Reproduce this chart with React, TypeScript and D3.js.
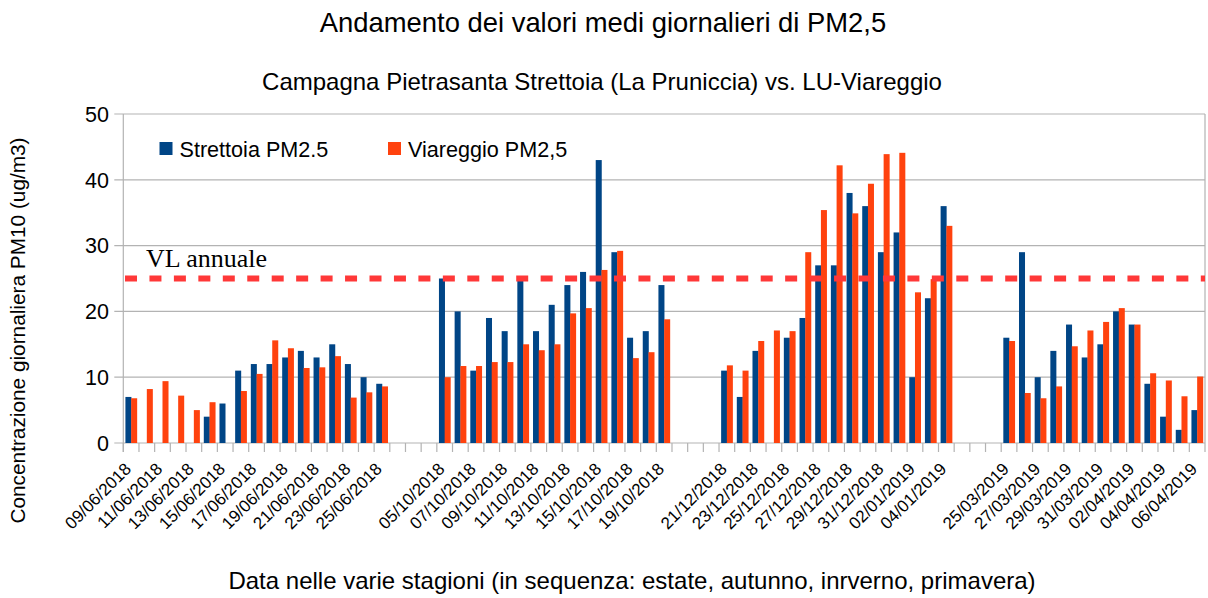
import React, { useEffect, useRef } from 'react';
import * as d3 from 'd3';

// giorni di campionamento (le celle vuote separano le stagioni)
const dates = [
  '09/06/2018', '10/06/2018', '11/06/2018', '12/06/2018', '13/06/2018', '14/06/2018',
  '15/06/2018', '16/06/2018', '17/06/2018', '18/06/2018', '19/06/2018', '20/06/2018',
  '21/06/2018', '22/06/2018', '23/06/2018', '24/06/2018', '25/06/2018', '26/06/2018',
  '', '',
  '05/10/2018', '06/10/2018', '07/10/2018', '08/10/2018', '09/10/2018', '10/10/2018',
  '11/10/2018', '12/10/2018', '13/10/2018', '14/10/2018', '15/10/2018', '16/10/2018',
  '17/10/2018', '18/10/2018', '19/10/2018', '20/10/2018',
  '', '',
  '21/12/2018', '22/12/2018', '23/12/2018', '24/12/2018', '25/12/2018', '26/12/2018',
  '27/12/2018', '28/12/2018', '29/12/2018', '30/12/2018', '31/12/2018', '01/01/2019',
  '02/01/2019', '03/01/2019', '04/01/2019', '05/01/2019',
  '', '',
  '25/03/2019', '26/03/2019', '27/03/2019', '28/03/2019', '29/03/2019', '30/03/2019',
  '31/03/2019', '01/04/2019', '02/04/2019', '03/04/2019', '04/04/2019', '05/04/2019',
  '06/04/2019',
];

const strettoia = [
  7, null, null, null, null, 4, 6, 11, 12, 12, 13, 14, 13, 15, 12, 10, 9, null,
  null, null,
  25, 20, 11, 19, 17, 25, 17, 21, 24, 26, 43, 29, 16, 17, 24, null,
  null, null,
  11, 7, 14, null, 16, 19, 27, 27, 38, 36, 29, 32, 10, 22, 36, null,
  null, null,
  16, 29, 10, 14, 18, 13, 15, 20, 18, 9, 4, 2, 5,
];

const viareggio = [
  6.8, 8.2, 9.4, 7.2, 5.0, 6.2, null, 7.9, 10.5, 15.6, 14.4, 11.4, 11.5, 13.2, 6.9, 7.7, 8.6, null,
  null, null,
  10, 11.7, 11.7, 12.3, 12.3, 15, 14.1, 15, 19.7, 20.5, 26.3, 29.2, 12.9, 13.8, 18.8, null,
  null, null,
  11.8, 11.0, 15.5, 17.1, 17.0, 29.0, 35.4, 42.2, 34.9, 39.4, 43.9, 44.1, 22.9, 24.9, 33.0, null,
  null, null,
  15.5, 7.6, 6.8, 8.6, 14.7, 17.1, 18.4, 20.5, 18.0, 10.6, 9.5, 7.1, 10.1,
];

const seriesNames = ['Strettoia PM2.5', 'Viareggio PM2,5'];
const seriesColors = ['#004586', '#ff420e'];
const yTicks = [0, 10, 20, 30, 40, 50];
const limitValue = 25;

const W = 1208;
const H = 598;
const FONT = '"Liberation Sans", Arial, sans-serif';

export default function App() {
  const ref = useRef<SVGSVGElement>(null);

  useEffect(() => {
    const svg = d3.select(ref.current);
    svg.selectAll('*').remove();

    const left = 123.3, right = 1205, top = 114, bottom = 443;

    const x = d3.scaleBand<number>()
      .domain(dates.map((_, i) => i))
      .range([left, right]);

    const xInner = d3.scaleBand<number>()
      .domain([0, 1])
      .range([0, x.bandwidth()])
      .paddingOuter(0.37);

    const y = d3.scaleLinear().domain([0, 50]).range([bottom, top]);

    // griglia
    svg.append('g')
      .selectAll('line')
      .data(yTicks)
      .join('line')
      .attr('x1', left - 9)
      .attr('x2', right)
      .attr('y1', d => y(d))
      .attr('y2', d => y(d))
      .attr('stroke', '#b3b3b3')
      .attr('stroke-width', 1.2);

    // asse y + bordo destro
    svg.append('line')
      .attr('x1', left).attr('x2', left)
      .attr('y1', top).attr('y2', bottom + 9)
      .attr('stroke', '#b3b3b3').attr('stroke-width', 1.2);
    svg.append('line')
      .attr('x1', right).attr('x2', right)
      .attr('y1', top).attr('y2', bottom + 9)
      .attr('stroke', '#b3b3b3').attr('stroke-width', 1.2);

    // tacche asse x
    svg.append('g')
      .selectAll('line')
      .data(dates.map((_, i) => i))
      .join('line')
      .attr('x1', d => x(d)!)
      .attr('x2', d => x(d)!)
      .attr('y1', bottom)
      .attr('y2', bottom + 9)
      .attr('stroke', '#b3b3b3')
      .attr('stroke-width', 1.2);

    svg.append('g')
      .selectAll('text')
      .data(yTicks)
      .join('text')
      .attr('x', 109)
      .attr('y', d => y(d))
      .attr('dy', '0.36em')
      .attr('text-anchor', 'end')
      .style('font-family', FONT)
      .style('font-size', '21.5px')
      .text(d => d);

    // barre
    [strettoia, viareggio].forEach((vals, s) => {
      svg.append('g')
        .selectAll('rect')
        .data(vals.map((v, i) => ({ v, i })).filter(d => d.v != null))
        .join('rect')
        .attr('x', d => x(d.i)! + xInner(s)!)
        .attr('y', d => y(d.v as number))
        .attr('width', xInner.bandwidth() + 0.3)
        .attr('height', d => bottom - y(d.v as number))
        .attr('fill', seriesColors[s]);
    });

    // etichette date
    svg.append('g')
      .selectAll('text')
      .data(dates.map((d, i) => ({ d, i })).filter(d => d.i % 2 === 0 && d.d !== ''))
      .join('text')
      .attr('transform', d => `translate(${x(d.i)! + x.bandwidth() / 2 + 1}, 470) rotate(-45)`)
      .attr('text-anchor', 'end')
      .style('font-family', FONT)
      .style('font-size', '17px')
      .text(d => d.d);

    // valore limite annuale
    svg.append('line')
      .attr('x1', 125)
      .attr('x2', right)
      .attr('y1', y(limitValue))
      .attr('y2', y(limitValue))
      .attr('stroke', '#ff3838')
      .attr('stroke-width', 6)
      .attr('stroke-dasharray', '12 12.45');

    svg.append('text')
      .attr('x', 146)
      .attr('y', 267)
      .style('font-family', '"Liberation Serif", "Times New Roman", serif')
      .style('font-size', '26px')
      .text('VL annuale');

    // legenda
    const legendX = [159.5, 388];
    seriesNames.forEach((name, s) => {
      svg.append('rect')
        .attr('x', legendX[s]).attr('y', 142)
        .attr('width', 13).attr('height', 13)
        .attr('fill', seriesColors[s]);
      svg.append('text')
        .attr('x', legendX[s] + 20).attr('y', 156.5)
        .style('font-family', FONT)
        .style('font-size', '21.6px')
        .text(name);
    });

    // titoli
    svg.append('text')
      .attr('x', 603).attr('y', 32)
      .attr('text-anchor', 'middle')
      .style('font-family', FONT).style('font-size', '27.4px')
      .text('Andamento dei valori medi giornalieri di PM2,5');

    svg.append('text')
      .attr('x', 602).attr('y', 90)
      .attr('text-anchor', 'middle')
      .style('font-family', FONT).style('font-size', '24px')
      .text('Campagna Pietrasanta Strettoia (La Pruniccia) vs. LU-Viareggio');

    svg.append('text')
      .attr('x', 632).attr('y', 589)
      .attr('text-anchor', 'middle')
      .style('font-family', FONT).style('font-size', '24px')
      .text('Data nelle varie stagioni (in sequenza: estate, autunno, inrverno, primavera)');

    svg.append('text')
      .attr('transform', 'translate(25, 330.5) rotate(-90)')
      .attr('text-anchor', 'middle')
      .style('font-family', FONT).style('font-size', '20.8px')
      .text('Concentrazione giornaliera PM10 (ug/m3)');
  }, []);

  return (
    <svg
      ref={ref}
      width={W}
      height={H}
      style={{ position: 'absolute', left: 0, top: 0, background: '#fff' }}
    />
  );
}
